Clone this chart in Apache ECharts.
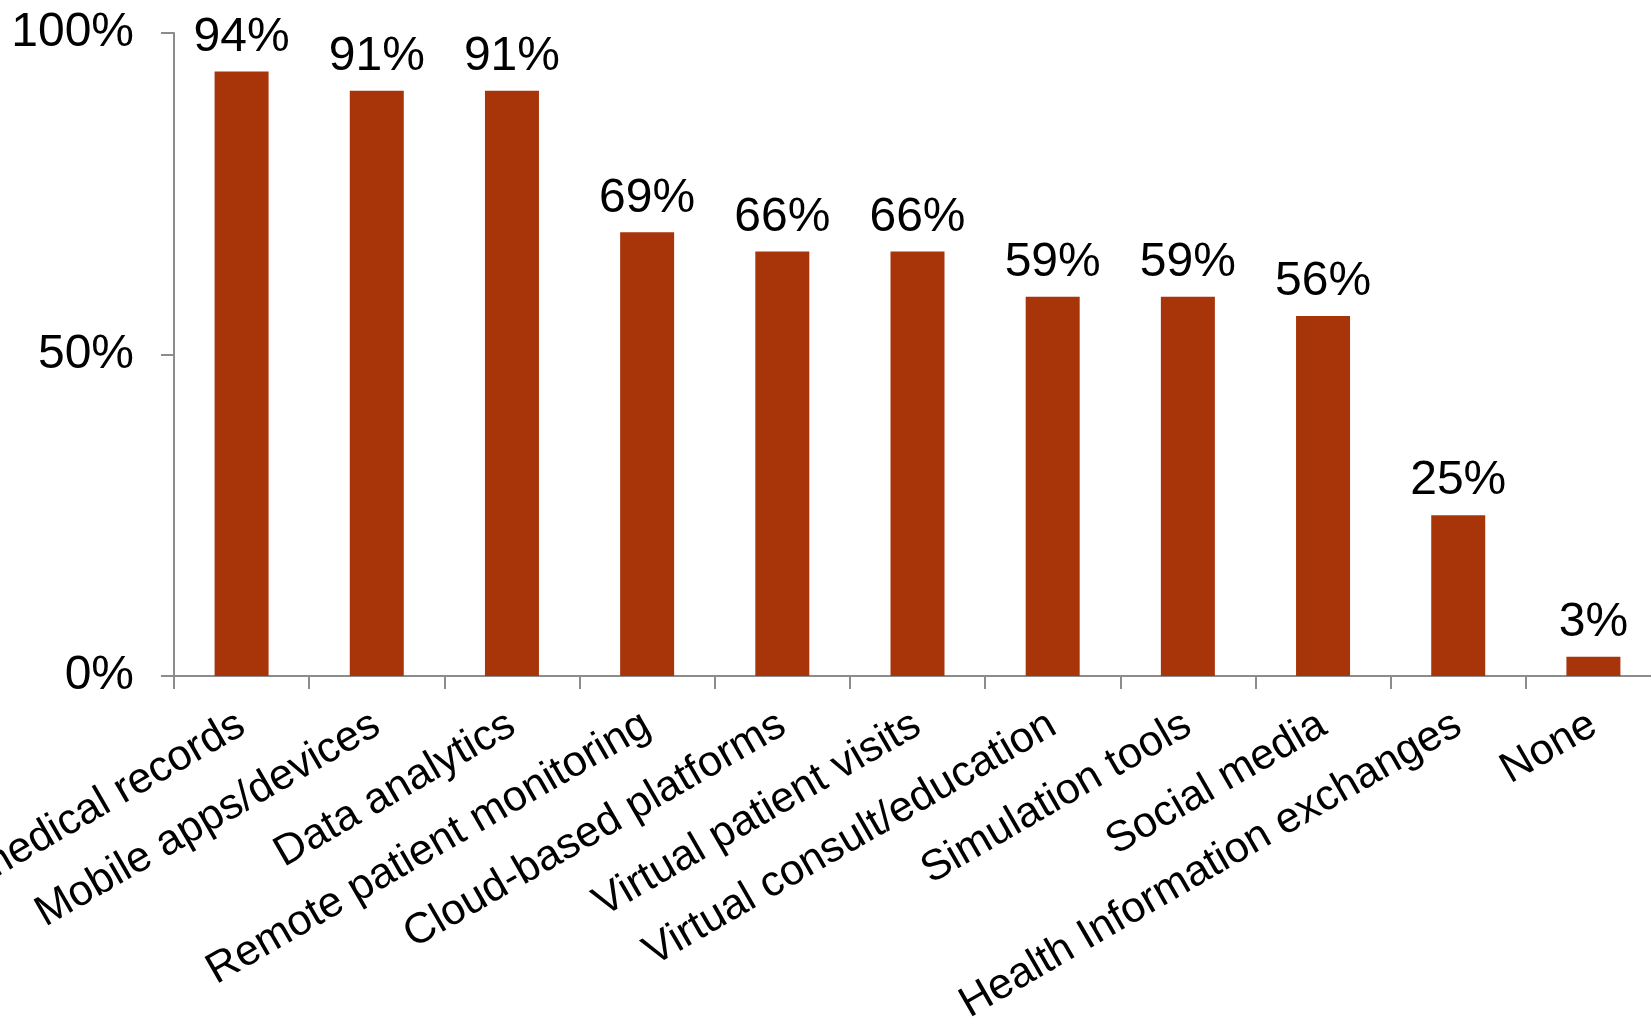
<!DOCTYPE html>
<html>
<head>
<meta charset="utf-8">
<script src="https://cdn.jsdelivr.net/npm/echarts@6/dist/echarts.min.js"></script>
<style>
  html, body { margin: 0; padding: 0; background: #fff; overflow: hidden; }
  #chart { width: 1700px; height: 1017px; }
</style>
</head>
<body>
<div id="chart"></div>
<script>
var categories = ['Electronic medical records', 'Mobile apps/devices', 'Data analytics',
  'Remote patient monitoring', 'Cloud-based platforms', 'Virtual patient visits',
  'Virtual consult/education', 'Simulation tools', 'Social media',
  'Health Information exchanges', 'None'];
var values = [94, 91, 91, 69, 66, 66, 59, 59, 56, 25, 3];

var font = 'Liberation Sans, Arial, sans-serif';
var axisGray = '#8c8c8c';

var myChart = echarts.init(document.getElementById('chart'));
var option = {
  animation: false,
  grid: { left: 174, right: 39, top: 33, bottom: 341, containLabel: false, outerBoundsMode: 'none' },
  xAxis: {
    type: 'category',
    data: categories,
    axisLine: { lineStyle: { color: axisGray, width: 2 } },
    axisTick: { show: true, length: 13, interval: 0, lineStyle: { color: axisGray, width: 2 } },
    axisLabel: {
      interval: 0,
      rotate: 30,
      margin: 46,
      color: '#000',
      fontSize: 43,
      fontFamily: font,
      hideOverlap: false
    }
  },
  yAxis: {
    type: 'value',
    min: 0,
    max: 100,
    interval: 50,
    splitLine: { show: false },
    axisLine: { show: true, lineStyle: { color: axisGray, width: 2 } },
    axisTick: { show: true, length: 13, lineStyle: { color: axisGray, width: 2 } },
    axisLabel: {
      formatter: '{value}%',
      margin: 40,
      color: '#000',
      fontSize: 48,
      fontFamily: font
    }
  },
  series: [{
    type: 'bar',
    data: values,
    barWidth: 54,
    itemStyle: { color: '#A8340A' },
    label: {
      show: true,
      position: 'top',
      distance: 10,
      formatter: '{c}%',
      color: '#000',
      fontSize: 48,
      fontFamily: font
    }
  }]
};
myChart.setOption(option);
</script>
</body>
</html>
